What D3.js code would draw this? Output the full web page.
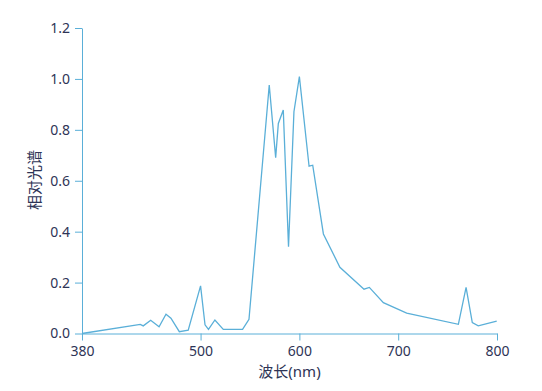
<!DOCTYPE html>
<html>
<head>
<meta charset="utf-8">
<script src="https://cdn.jsdelivr.net/npm/d3@7"></script>
<style>
  body { margin: 0; background: #fff; }
  text { font-family: "Noto Sans", "Noto Sans CJK SC", sans-serif; fill: #2e3456; }
</style>
</head>
<body>
<div id="chart"></div>
<script>
// wavelength (nm) and relative spectrum
const wavelengths = [380, 439, 442, 449.5, 458, 465, 470, 478.5, 487.5, 500, 504.5, 508, 514.5, 523, 542.5, 549,
  569.5, 576, 578.7, 583.7, 589, 594.5, 600, 609.8, 613.5, 624.3, 641, 665.4, 670.8, 685, 708.6, 760.9, 768.7, 775, 781, 799.7];
const values = [0, 0.036, 0.03, 0.052, 0.026, 0.076, 0.06, 0.007, 0.013, 0.187, 0.034, 0.016, 0.053, 0.016, 0.016, 0.056,
  0.976, 0.691, 0.825, 0.878, 0.341, 0.871, 1.009, 0.657, 0.661, 0.391, 0.26, 0.174, 0.181, 0.121, 0.08, 0.036, 0.181, 0.043, 0.03, 0.049];
const xTicks = [380, 500, 600, 700, 800];
const yTicks = [0, 0.2, 0.4, 0.6, 0.8, 1.0, 1.2];

const width = 542, height = 391;
const margin = {left: 82, right: 45, top: 28, bottom: 58};
const lineColor = "#5aafd8";

const svg = d3.select("#chart").append("svg")
  .attr("width", width).attr("height", height);

const x = d3.scaleLinear().domain([380, 800]).range([margin.left, width - margin.right]);
const y = d3.scaleLinear().domain([0, 1.2]).range([height - margin.bottom + 0.5, margin.top]);

const xAxis = svg.append("g")
  .attr("transform", `translate(0,${y(0)})`)
  .call(d3.axisBottom(x).tickValues(xTicks).tickSize(7).tickSizeOuter(0).tickPadding(6));

const yAxis = svg.append("g")
  .attr("transform", `translate(${margin.left},0)`)
  .call(d3.axisLeft(y).tickValues(yTicks).tickSize(7).tickSizeOuter(0).tickPadding(5)
    .tickFormat(d3.format(".1f")));

[xAxis, yAxis].forEach(g => {
  g.select(".domain").attr("stroke", lineColor);
  g.selectAll(".tick line").attr("stroke", lineColor);
  g.selectAll(".tick text").attr("font-size", 14).style("fill", "#2e3456")
    .attr("font-family", '"Noto Sans", "Noto Sans CJK SC", sans-serif');
});

svg.append("path")
  .datum(wavelengths.map((w, i) => [w, values[i]]))
  .attr("fill", "none")
  .attr("stroke", lineColor)
  .attr("stroke-width", 1.3)
  .attr("d", d3.line().x(d => x(d[0])).y(d => y(d[1])));

svg.append("text")
  .attr("x", (x(380) + x(800)) / 2)
  .attr("y", 377)
  .attr("text-anchor", "middle")
  .attr("font-size", 15)
  .text("波长(nm)");

svg.append("text")
  .attr("transform", `translate(40,${180}) rotate(-90)`)
  .attr("text-anchor", "middle")
  .attr("font-size", 15)
  .text("相对光谱");
</script>
</body>
</html>
